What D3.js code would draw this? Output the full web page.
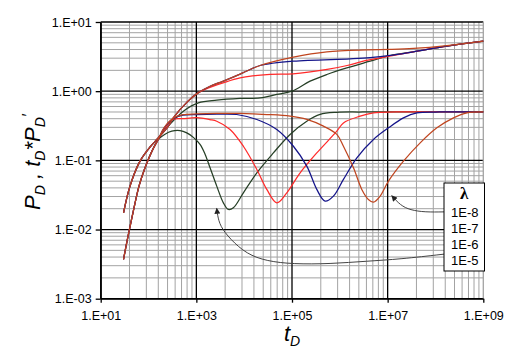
<!DOCTYPE html>
<html><head><meta charset="utf-8">
<script src="https://cdn.jsdelivr.net/npm/d3@7"></script>
<style>
html,body{margin:0;padding:0;background:#fff;}
svg text{font-family:"Liberation Sans",Arial,sans-serif;}
</style></head>
<body>
<svg id="c" width="509" height="353"></svg>
<script>
// ---------- data (t_D, value) ----------
const xTickLabels = ["1.E+01","1.E+03","1.E+05","1.E+07","1.E+09"];
const xTickValues = [1e1,1e3,1e5,1e7,1e9];
const yTickLabels = ["1.E-03","1.E-02","1.E-01","1.E+00","1.E+01"];
const yTickValues = [1e-3,1e-2,1e-1,1e0,1e1];
const lambdas = ["1E-8","1E-7","1E-6","1E-5"];

// Pressure P_D
const pdGreen = [[30,0.0174],[41,0.0424],[66.4,0.0973],[107,0.155],[160,0.211],[259,0.312],[535,0.514],[1100,0.678],[2670,0.741],[8200,0.784],[21500,0.80],[48100,0.896],[99100,1.0],[239000,1.395],[535000,1.743],[1.4e6,2.17],[4.3e6,2.71],[1.13e7,3.28],[3.41e7,3.70],[1.73e8,4.47],[1e9,5.28]];
const pdRed = [[30,0.0174],[41,0.0424],[66.4,0.0973],[107,0.155],[160,0.211],[259,0.312],[330,0.411],[670,0.717],[1086,0.945],[1520,1.06],[3620,1.318],[8200,1.557],[34800,1.743],[105000,1.78],[542000,2.06],[1.42e6,2.35],[3.38e6,2.76],[6.97e6,3.03],[3.41e7,3.70],[1.73e8,4.47],[1e9,5.28]];
const pdBlue = [[30,0.0174],[41,0.0424],[66.4,0.0973],[107,0.155],[160,0.211],[259,0.312],[330,0.411],[670,0.717],[1086,0.945],[1936,1.18],[3673,1.395],[8200,1.76],[13280,2.06],[21500,2.35],[107000,2.71],[1.64e6,2.93],[4.3e6,3.05],[1.13e7,3.28],[3.41e7,3.70],[1.73e8,4.47],[1e9,5.28]];
const pdBrown = [[30,0.0174],[41,0.0424],[66.4,0.0973],[107,0.155],[160,0.211],[259,0.312],[330,0.411],[670,0.717],[1086,0.945],[1936,1.18],[3673,1.395],[8200,1.76],[13280,2.06],[21500,2.35],[107000,3.10],[535000,3.70],[3.67e6,3.95],[1.13e7,4.01],[3.47e7,4.14],[1.73e8,4.55],[1e9,5.28]];

// Derivative t_D*P_D'
const dvGreen = [[30,0.0037],[37.3,0.00803],[48.1,0.01845],[63.2,0.0424],[84.5,0.078],[118,0.136],[160,0.2005],[221,0.239],[306,0.264],[456,0.269],[630,0.2496],[853,0.2165],[1194,0.170],[1520,0.123],[1936,0.078],[2670,0.0424],[3673,0.0243],[4670,0.0195],[5940,0.0206],[9620,0.0339],[18400,0.066],[40800,0.128],[91200,0.237],[204000,0.368],[387000,0.461],[865000,0.495],[3e6,0.5],[1e9,0.5]];
const dvRed = [[30,0.0037],[37.3,0.00803],[48.1,0.01845],[63.2,0.0424],[84.5,0.078],[118,0.136],[160,0.2005],[211,0.282],[326,0.39],[527,0.40],[1018,0.414],[1936,0.388],[2670,0.368],[5070,0.2796],[9620,0.160],[18400,0.0739],[29700,0.038],[48100,0.0243],[77800,0.0339],[148000,0.066],[330000,0.128],[865000,0.264],[1.19e6,0.348],[2.66e6,0.435],[5.05e6,0.486],[1.5e7,0.5],[1e9,0.5]];
const dvBlue = [[30,0.0037],[37.3,0.00803],[48.1,0.01845],[63.2,0.0424],[84.5,0.078],[118,0.136],[160,0.2005],[211,0.292],[326,0.40],[527,0.45],[1018,0.46],[2670,0.465],[7000,0.46],[18400,0.39],[48100,0.2796],[107000,0.160],[204000,0.0824],[330000,0.038],[492000,0.0257],[735000,0.0304],[1.19e6,0.053],[2.27e6,0.1087],[5.05e6,0.2005],[1.04e7,0.295],[2.14e7,0.411],[4.08e7,0.486],[1.2e8,0.5],[1e9,0.5]];
const dvBrown = [[30,0.0037],[37.3,0.00803],[48.1,0.01845],[63.2,0.0424],[84.5,0.078],[118,0.136],[160,0.2005],[211,0.295],[326,0.405],[527,0.457],[1018,0.468],[2670,0.476],[8200,0.476],[29700,0.46],[91200,0.435],[204000,0.39],[454000,0.312],[865000,0.237],[1.19e6,0.160],[1.93e6,0.078],[2.88e6,0.038],[3.96e6,0.0272],[5.05e6,0.0249],[6.97e6,0.0304],[1.04e7,0.050],[2.14e7,0.0973],[4.79e7,0.179],[1.07e8,0.295],[2.38e8,0.411],[4.54e8,0.486],[1e9,0.5]];

// annotation arrows (data coords, start -> tip)
const arrow1 = [[1.52e8,0.018],[6.1e7,0.0178],[2.96e7,0.0191],[1.83e7,0.0225],[1.22e7,0.0309]];
const arrow2 = [[1.52e8,0.00441],[1.83e7,0.00373],[3.67e6,0.00349],[6.27e5,0.00319],[1.05e5,0.00316],[29700,0.00349],[11300,0.00441],[5070,0.00727],[3130,0.0112],[2770,0.0162],[2670,0.0202]];

const colors = {green:"#263f26", red:"#ff2a2a", blue:"#14148a", brown:"#c0451f"};

// ---------- layout ----------
const svg = d3.select("#c");
const L=100.7, R=483.3, T=22, B=298.7;
const x = d3.scaleLog().domain([1e1,1e9]).range([L,R]);
const y = d3.scaleLog().domain([1e-3,1e1]).range([B,T]);

const g = svg.append("g");
// gridlines y
for (let n=-3;n<1;n++){
  for (let k=2;k<=9;k++){
    const v=k*Math.pow(10,n);
    g.append("line").attr("x1",L).attr("x2",R).attr("y1",y(v)).attr("y2",y(v))
      .attr("stroke","#a3a3a3").attr("stroke-width",1);
  }
}
// gridlines x (base-100 axis: minors at k^2 * 10^(2m+1))
for (let m=0;m<4;m++){
  for (let k=2;k<=9;k++){
    const v=k*k*Math.pow(10,2*m+1);
    g.append("line").attr("x1",x(v)).attr("x2",x(v)).attr("y1",T).attr("y2",B)
      .attr("stroke","#a3a3a3").attr("stroke-width",1);
  }
}
// major lines
yTickValues.forEach(v=>{
  g.append("line").attr("x1",L).attr("x2",R).attr("y1",y(v)).attr("y2",y(v))
    .attr("stroke","#000").attr("stroke-width",1.3);
});
xTickValues.forEach((v,i)=>{
  g.append("line").attr("x1",x(v)).attr("x2",x(v)).attr("y1",T).attr("y2",B)
    .attr("stroke", i===xTickValues.length-1 ? "#a3a3a3" : "#000").attr("stroke-width",1.3);
});

// axes
const xAxis = d3.axisBottom(x).tickValues(xTickValues).tickFormat((d,i)=>xTickLabels[i]).tickSizeInner(4).tickSizeOuter(0).tickPadding(8);
const yAxis = d3.axisLeft(y).tickValues(yTickValues).tickFormat((d,i)=>yTickLabels[i]).tickSizeInner(5).tickSizeOuter(0).tickPadding(4);
const gx = svg.append("g").attr("transform",`translate(0,${B})`).call(xAxis);
const gy = svg.append("g").attr("transform",`translate(${L},0)`).call(yAxis);
[gx,gy].forEach(a=>{
  a.select(".domain").attr("stroke","#000").attr("stroke-width",1.3);
  a.selectAll(".tick line").attr("stroke","#000").attr("stroke-width",1.3);
  a.selectAll(".tick text").attr("fill","#000").style("font-size","12.5px").style("font-family","'Liberation Sans',Arial,sans-serif");
});

// curves
const line = d3.line().x(d=>x(d[0])).y(d=>y(d[1])).curve(d3.curveCatmullRom.alpha(0.5));
const series = [
  [pdGreen,colors.green],[dvGreen,colors.green],
  [pdRed,colors.red],[dvRed,colors.red],
  [pdBlue,colors.blue],[dvBlue,colors.blue],
  [pdBrown,colors.brown],[dvBrown,colors.brown]
];
series.forEach(([d,c])=>{
  svg.append("path").datum(d).attr("d",line).attr("fill","none").attr("stroke",c).attr("stroke-width",1.25);
});

// arrows
const defs = svg.append("defs");
defs.append("marker").attr("id","ah").attr("viewBox","0 0 10 10").attr("refX",9).attr("refY",5)
  .attr("markerWidth",9).attr("markerHeight",6).attr("orient","auto").attr("markerUnits","userSpaceOnUse")
  .append("path").attr("d","M0,0 L10,5 L0,10 Z").attr("fill","#222");
const aline = d3.line().x(d=>x(d[0])).y(d=>y(d[1])).curve(d3.curveBasis);
[arrow1,arrow2].forEach(a=>{
  svg.append("path").datum(a).attr("d",aline).attr("fill","none").attr("stroke","#444").attr("stroke-width",1)
    .attr("marker-end","url(#ah)");
});

// legend
const lgX=444, lgY=183, lgW=40.5, lgH=88;
svg.append("rect").attr("x",lgX).attr("y",lgY).attr("width",lgW).attr("height",lgH)
  .attr("fill","#fff").attr("stroke","#000").attr("stroke-width",1);
svg.append("text").attr("x",lgX+lgW/2).attr("y",lgY+16).attr("text-anchor","middle")
  .style("font-family","'Liberation Serif','Times New Roman',serif").style("font-size","17px").style("font-weight","bold").text("λ");
lambdas.forEach((s,i)=>{
  svg.append("text").attr("x",lgX+7).attr("y",lgY+34+i*16).style("font-size","13px").attr("fill","#000").text(s);
});

// axis titles
const yt = svg.append("text").attr("transform","translate(40,162) rotate(-90)").attr("text-anchor","middle")
  .style("font-size","22px").style("font-style","italic");
yt.append("tspan").text("P");
yt.append("tspan").attr("dy",5).style("font-size","14px").text("D");
yt.append("tspan").attr("dy",-5).text(" , t");
yt.append("tspan").attr("dy",5).style("font-size","14px").text("D");
yt.append("tspan").attr("dy",-5).text("*P");
yt.append("tspan").attr("dy",5).style("font-size","14px").text("D");
yt.append("tspan").attr("dy",-11).style("font-size","16px").text("′");

const xt = svg.append("text").attr("x",(L+R)/2).attr("y",341).attr("text-anchor","middle")
  .style("font-size","22px").style("font-style","italic");
xt.append("tspan").text("t");
xt.append("tspan").attr("dy",5).style("font-size","14px").text("D");
</script>
</body></html>
